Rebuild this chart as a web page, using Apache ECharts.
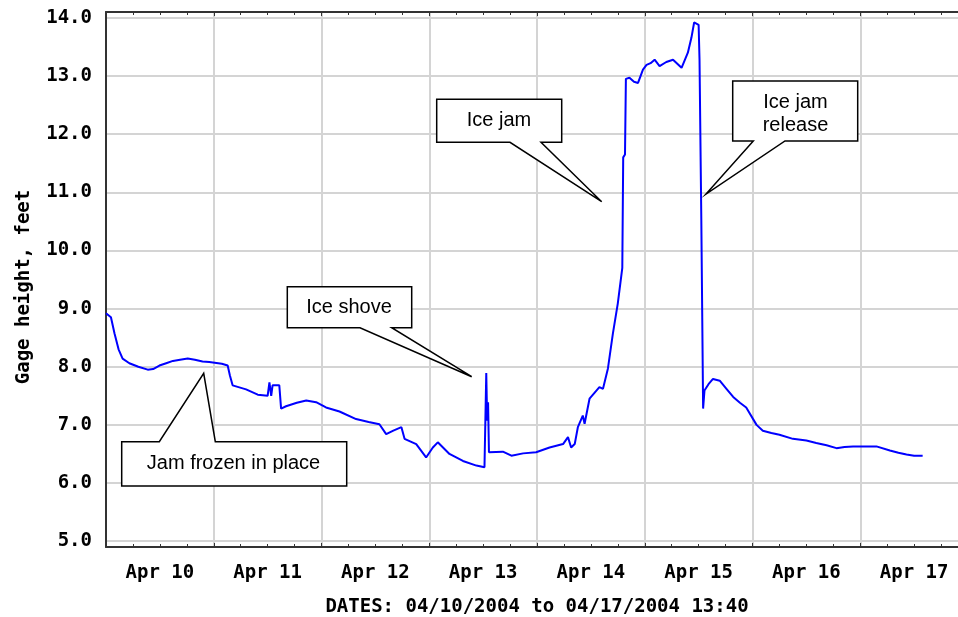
<!DOCTYPE html>
<html><head><meta charset="utf-8">
<script src="https://cdn.jsdelivr.net/npm/echarts@6/dist/echarts.min.js"></script>
<style>html,body{margin:0;padding:0;background:#fff;overflow:hidden}#c{width:958px;height:617px}</style>
</head><body><div id="c"></div>
<script>
// hours since 2004-04-10 00:00
const hours = [0,1.1,1.9,2.8,3.7,5.2,7.2,9.3,10.5,11.9,13.4,14.9,16.5,18.2,19.8,21.5,23.0,24.2,25.8,27.1,27.6,28.2,31.2,33.8,36.0,36.4,36.8,37.1,38.6,39.0,40.1,42.5,44.6,46.8,49.0,52.0,55.7,58.5,60.9,62.4,64.0,65.8,66.5,69.1,71.3,72.8,73.9,76.5,79.5,82.5,84.3,84.6,84.7,84.9,85.1,85.3,88.4,90.3,92.9,95.8,98.8,101.8,102.9,103.6,104.4,105.1,106.2,106.6,107.7,109.9,110.7,111.8,112.9,114.0,115.0,115.2,115.6,115.8,116.6,117.6,118.5,119.6,120.4,121.3,122.2,123.3,124.8,126.3,128.2,129.6,130.4,131.0,132.0,132.2,132.6,133.0,133.3,134.2,135.2,136.7,138.2,139.7,141.2,142.6,144.9,146.3,148.2,150.0,153.0,156.0,158.2,160.5,162.7,164.5,166.4,169.0,171.6,174.6,176.5,178.3,180.0,181.9];
const gage = [8.92,8.85,8.57,8.30,8.14,8.06,8.00,7.95,7.96,8.02,8.06,8.10,8.12,8.14,8.12,8.09,8.08,8.07,8.05,8.02,7.85,7.68,7.61,7.52,7.50,7.73,7.50,7.68,7.68,7.28,7.32,7.38,7.42,7.39,7.30,7.23,7.10,7.05,7.01,6.84,6.90,6.96,6.76,6.67,6.44,6.61,6.70,6.50,6.38,6.30,6.27,6.27,7.89,7.07,7.39,6.53,6.54,6.47,6.51,6.53,6.61,6.67,6.79,6.61,6.67,6.96,7.16,7.02,7.45,7.65,7.62,7.97,8.57,9.09,9.70,11.60,11.65,12.95,12.97,12.90,12.88,13.11,13.19,13.22,13.28,13.17,13.24,13.28,13.14,13.40,13.66,13.92,13.88,13.28,10.52,7.28,7.59,7.70,7.79,7.76,7.62,7.48,7.38,7.30,7.00,6.90,6.86,6.83,6.76,6.73,6.69,6.65,6.60,6.62,6.63,6.63,6.63,6.56,6.52,6.49,6.47,6.47];
const dayLabels = ['Apr 10','Apr 11','Apr 12','Apr 13','Apr 14','Apr 15','Apr 16','Apr 17'];
const xTitle = 'DATES: 04/10/2004 to 04/17/2004 13:40';
const yTitle = 'Gage height, feet';

const labelFont = {fontFamily:'DejaVu Sans Mono', fontWeight:'bold', fontSize:19, color:'#000'};
const gridColor = '#d4d4d4';
const axisColor = '#333';

const chart = echarts.init(document.getElementById('c'), null, {renderer:'canvas'});

function callout(points, lines, cx, cy) {
  return [
    {type:'polygon', z:100, shape:{points:points}, style:{fill:'#fff', stroke:'#000', lineWidth:1.5}},
    {type:'text', z:101, x:cx, y:cy, style:{text:lines, fill:'#000', font:'20px "Liberation Sans", Arial, sans-serif', textAlign:'center', textVerticalAlign:'middle', lineHeight:23}}
  ];
}

chart.setOption({
  animation:false,
  grid:{left:106, top:12, width:862, height:535, containLabel:false, outerBoundsMode:'none'},
  xAxis:[
    {type:'value', min:0, max:192, interval:12, position:'bottom',
     axisLine:{show:false}, axisTick:{show:false}, splitLine:{show:false},
     axisLabel:Object.assign({margin:17, formatter:v=> (v%24===12 ? dayLabels[(v-12)/24] : '')}, labelFont),
     name:xTitle, nameLocation:'middle', nameGap:51, nameTextStyle:Object.assign({}, labelFont)},
    {type:'value', min:0, max:192, interval:24, position:'bottom',
     axisLine:{show:true, lineStyle:{color:axisColor, width:2}},
     axisTick:{show:true, inside:true, length:4, lineStyle:{color:axisColor}},
     minorTick:{show:true, splitNumber:4, length:3, lineStyle:{color:axisColor}},
     axisLabel:{show:false},
     splitLine:{show:true, lineStyle:{color:gridColor, width:2}}},
    {type:'value', min:0, max:192, interval:24, position:'top',
     axisLine:{show:true, lineStyle:{color:axisColor, width:2}},
     axisTick:{show:true, inside:true, length:4, lineStyle:{color:axisColor}},
     minorTick:{show:true, splitNumber:4, length:3, lineStyle:{color:axisColor}},
     axisLabel:{show:false}, splitLine:{show:false}}
  ],
  yAxis:{type:'value', min:4.9, max:14.1, splitNumber:9, minInterval:1, maxInterval:1,
    axisLine:{show:true, lineStyle:{color:axisColor, width:2}},
    axisTick:{show:false},
    axisLabel:Object.assign({margin:14, formatter:v=> (Math.abs(v-Math.round(v))<1e-6 ? v.toFixed(1) : '')}, labelFont),
    splitLine:{show:true, lineStyle:{color:gridColor, width:2}},
    name:yTitle, nameLocation:'middle', nameGap:72, nameTextStyle:Object.assign({padding:[0,15,0,0]}, labelFont)},
  series:[{type:'line', xAxisIndex:1, data:hours.map((h,i)=>[h,gage[i]]), showSymbol:false,
    lineStyle:{color:'#0000ff', width:2}, itemStyle:{color:'#0000ff'}}],
  graphic:[].concat(
    callout([[121.7,441.7],[159.3,441.7],[203.7,373.3],[215.3,441.7],[346.7,441.7],[346.7,486],[121.7,486]], 'Jam frozen in place', 233.5, 463),
    callout([[287.3,286.7],[411.7,286.7],[411.7,327.7],[391.7,327.7],[471.7,376.7],[360,327.7],[287.3,327.7]], 'Ice shove', 349, 307),
    callout([[436.7,99.3],[561.7,99.3],[561.7,142.3],[541,142.3],[601.7,201.7],[510,142.3],[436.7,142.3]], 'Ice jam', 499, 120),
    callout([[732.7,81],[857.7,81],[857.7,141],[785,141],[706,194],[753.3,141],[732.7,141]], 'Ice jam\nrelease', 795.5, 114)
  )
});
</script></body></html>
